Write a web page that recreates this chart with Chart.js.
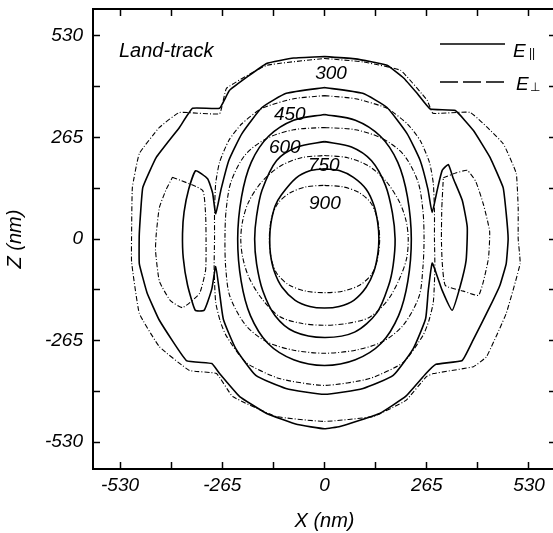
<!DOCTYPE html>
<html>
<head>
<meta charset="utf-8">
<script src="https://cdn.jsdelivr.net/npm/chart.js@4.4.1/dist/chart.umd.min.js"></script>
<style>
  html, body { margin: 0; padding: 0; background: #fff; overflow: hidden; }
  #wrap { width: 553px; height: 533px; overflow: hidden; }
</style>
</head>
<body>
<div id="wrap"><canvas id="chart" width="560" height="533"></canvas></div>
<script>
// Contour levels (labels along the top of the plot)
const levels = [300, 450, 600, 750, 900];
const levelLabelX = [17, -90, -103, -2, 1];
const levelLabelZ = [432, 325, 239, 192, 93];

// Axis ticks (nm)
const tickValues = [-530, -397.5, -265, -132.5, 0, 132.5, 265, 397.5, 530];
const majorTicks = [-530, -265, 0, 265, 530];

// E parallel contours (solid), [x, z] in nm
const par1 = [[0,183],[40,178],[75,161],[108,130],[128,88],[138,42],[141,0],[138,-40],[128,-85],[108,-126],[76,-160],[38,-176],[0,-180],[-38,-176],[-76,-160],[-110,-126],[-130,-85],[-140,-40],[-142,0],[-139,40],[-128,86],[-112,115],[-74,159],[-38,178],[0,183]];
const par2 = [[0,254],[70,240],[122,204],[158,140],[176,68],[183,0],[178,-68],[166,-122],[136,-192],[78,-243],[0,-257],[-78,-242],[-128,-200],[-160,-135],[-176,-65],[-181,0],[-176,60],[-162,127],[-124,205],[-70,240],[0,254]];
const par3 = [[0,325],[80,310],[145,268],[190,200],[215,110],[225,0],[216,-110],[192,-200],[147,-272],[80,-315],[0,-330],[-80,-315],[-147,-272],[-192,-200],[-216,-110],[-225,0],[-215,110],[-190,200],[-145,268],[-80,310],[0,325]];
const par4 = [[0,395],[99,380],[162,343],[214,275],[248,205],[268,130],[279,69],[292,127],[305,179],[321,194],[333,160],[357,101],[370,31],[367,-56],[351,-126],[331,-186],[305,-134],[287,-82],[279,-63],[269,-134],[262,-208],[230,-286],[178,-356],[100,-390],[0,-405],
  [-100,-390],[-178,-356],[-230,-286],[-262,-210],[-272,-140],[-282,-72],[-292,-130],[-312,-186],[-335,-186],[-355,-120],[-366,-50],[-368,14],[-364,70],[-352,130],[-334,178],[-303,157],[-290,120],[-282,66],[-268,130],[-248,205],[-214,275],[-162,343],[-99,380],[0,395]];
const par5 = [[0,476],[80,470],[162,453],[205,420],[240,380],[274,339],[339,335],[386,283],[429,213],[463,134],[471,66],[476,0],[471,-64],[455,-120],[429,-176],[385,-264],[357,-317],[289,-327],[263,-351],[211,-410],[143,-455],[40,-489],[0,-495],
  [-70,-484],[-150,-455],[-220,-411],[-272,-351],[-292,-325],[-358,-317],[-428,-212],[-460,-140],[-480,-64],[-480,14],[-471,134],[-436,213],[-376,291],[-342,341],[-272,341],[-246,388],[-150,458],[-80,472],[0,476]];

// E perpendicular contours (dash-dot)
const perp1 = [[0,140],[48,136],[90,121],[120,94],[136,56],[143,0],[136,-58],[122,-92],[92,-120],[48,-136],[0,-140],[-48,-136],[-92,-120],[-122,-92],[-137,-56],[-143,0],[-137,56],[-120,94],[-90,120],[-48,136],[0,140]];
const perp2 = [[0,218],[60,212],[115,190],[160,150],[195,95],[212,45],[217,0],[213,-50],[196,-100],[165,-158],[117,-204],[60,-220],[0,-225],[-60,-220],[-117,-202],[-163,-155],[-196,-100],[-212,-48],[-217,0],[-212,48],[-196,98],[-162,150],[-115,190],[-60,212],[0,218]];
const perp3 = [[0,291],[80,285],[150,262],[205,220],[242,150],[255,75],[258,0],[255,-75],[245,-150],[204,-225],[150,-268],[80,-290],[0,-298],[-80,-290],[-150,-268],[-204,-225],[-245,-150],[-256,-75],[-258,0],[-255,75],[-242,150],[-205,220],[-150,262],[-80,285],[0,291]];
const perp4 = [[0,374],[80,366],[162,341],[215,300],[248,257],[272,200],[282,145],[285,70],[285,0],[286,-77],[282,-165],[270,-215],[255,-252],[204,-322],[117,-364],[0,-382],[-117,-364],[-204,-322],[-255,-252],[-270,-215],[-282,-165],[-286,-77],[-285,0],[-285,70],[-282,145],[-272,200],[-248,257],[-215,300],[-162,341],[-80,366],[0,374]];
const perp5 = [[0,471],[100,462],[197,440],[266,362],[281,328],[378,330],[463,249],[497,171],[502,80],[502,0],[507,-64],[471,-194],[420,-307],[386,-333],[282,-351],[264,-359],[211,-421],[126,-463],[0,-476],
  [-126,-463],[-238,-411],[-280,-351],[-350,-343],[-428,-281],[-480,-194],[-500,-60],[-500,14],[-498,134],[-480,223],[-428,291],[-376,330],[-272,327],[-254,393],[-150,453],[0,471]];
const perpLobeR = [[308,160],[340,172],[370,179],[392,150],[412,90],[428,20],[425,-50],[412,-110],[399,-147],[360,-136],[313,-121],[305,-60],[303,0],[304,80],[308,160]];
const perpLobeL = [[-394,161],[-316,127],[-308,60],[-307,0],[-308,-80],[-324,-142],[-368,-179],[-400,-160],[-428,-110],[-438,-30],[-436,14],[-428,82],[-410,130],[-394,161]];

const FONT = '"Liberation Sans", Arial, sans-serif';

const toPts = arr => arr.map(p => ({ x: p[0], y: p[1] }));

const solid = (pts, tension) => ({
  data: toPts(pts), showLine: true, pointRadius: 0, borderColor: '#000',
  borderWidth: 1.6, tension: tension, fill: false
});
const dashDot = (pts, tension) => ({
  data: toPts(pts), showLine: true, pointRadius: 0, borderColor: '#000',
  borderWidth: 1.1, borderDash: [5, 2, 1, 2], tension: tension, fill: false
});

// labels, legend and corner text
const annotate = {
  id: 'annotate',
  afterDatasetsDraw(chart) {
    const ctx = chart.ctx;
    const xs = chart.scales.x, ys = chart.scales.y;
    const area = chart.chartArea;
    ctx.save();
    ctx.fillStyle = '#000';
    ctx.textAlign = 'center';
    ctx.textBaseline = 'middle';
    ctx.font = 'italic 19px ' + FONT;
    levels.forEach((lv, i) => {
      ctx.fillText(String(lv), xs.getPixelForValue(levelLabelX[i]), ys.getPixelForValue(levelLabelZ[i]));
    });

    ctx.textAlign = 'left';
    ctx.textBaseline = 'alphabetic';
    ctx.font = 'italic 20px ' + FONT;
    ctx.fillText('Land-track', area.left + 26, area.top + 48);

    // legend
    const lx0 = area.left + 347, lx1 = area.left + 412;
    ctx.strokeStyle = '#000';
    ctx.lineWidth = 1.6;
    ctx.beginPath();
    ctx.moveTo(lx0, area.top + 35);
    ctx.lineTo(lx1, area.top + 35);
    ctx.stroke();
    ctx.setLineDash([18, 5]);
    ctx.beginPath();
    ctx.moveTo(lx0, area.top + 73);
    ctx.lineTo(lx1, area.top + 73);
    ctx.stroke();
    ctx.setLineDash([]);

    ctx.font = 'italic 19px ' + FONT;
    ctx.fillText('E', area.left + 420, area.top + 48);
    ctx.fillText('E', area.left + 423, area.top + 81);
    ctx.font = '12px ' + FONT;
    ctx.fillText('||', area.left + 436, area.top + 48);
    ctx.fillText('\u22A5', area.left + 437, area.top + 82);
    ctx.restore();
  }
};

const tickFont = { family: FONT, size: 19, style: 'italic' };
const titleFont = { family: FONT, size: 20, style: 'italic' };

const setTicks = s => { s.ticks = tickValues.map(v => ({ value: v })); };
const majorLabel = v => majorTicks.includes(v) ? String(v) : '';
// fixed box sizes, no extra label overhang padding
const fixBox = (w, h) => s => {
  if (w !== null) s.width = w;
  if (h !== null) s.height = h;
  s.paddingTop = 0; s.paddingBottom = 0; s.paddingLeft = 0; s.paddingRight = 0;
};

new Chart(document.getElementById('chart'), {
  type: 'scatter',
  data: {
    datasets: [
      solid(par1, 0.3), solid(par2, 0.3), solid(par3, 0.3), solid(par4, 0.15), solid(par5, 0.1),
      dashDot(perp1, 0.3), dashDot(perp2, 0.3), dashDot(perp3, 0.3), dashDot(perp4, 0.2), dashDot(perp5, 0.1),
      dashDot(perpLobeR, 0.15), dashDot(perpLobeL, 0.15)
    ]
  },
  options: {
    responsive: false,
    animation: false,
    layout: { padding: 0 },
    plugins: { legend: { display: false }, tooltip: { enabled: false } },
    scales: {
      x: {
        type: 'linear', position: 'bottom', min: -600, max: 600,
        afterBuildTicks: setTicks,
        afterFit: fixBox(null, 64),
        ticks: { callback: majorLabel, font: tickFont, color: '#000', padding: 12, maxRotation: 0, autoSkip: false },
        grid: { drawOnChartArea: false, tickLength: -7, color: '#000', tickWidth: 1.5 },
        border: { color: '#000', width: 2 },
        title: { display: true, text: 'X (nm)', font: titleFont, color: '#000', padding: { top: 0, bottom: 0 } }
      },
      x2: {
        type: 'linear', position: 'top', min: -600, max: 600,
        afterBuildTicks: setTicks,
        afterFit: fixBox(null, 9),
        ticks: { callback: () => '', font: tickFont },
        grid: { drawOnChartArea: false, tickLength: -7, color: '#000', tickWidth: 1.5 },
        border: { color: '#000', width: 2 }
      },
      y: {
        type: 'linear', position: 'left', min: -600, max: 600,
        afterBuildTicks: setTicks,
        afterFit: fixBox(93, null),
        ticks: { callback: majorLabel, font: tickFont, color: '#000', padding: 17, autoSkip: false },
        grid: { drawOnChartArea: false, tickLength: -7, color: '#000', tickWidth: 1.5 },
        border: { color: '#000', width: 2 },
        title: { display: true, text: 'Z (nm)', font: titleFont, color: '#000', padding: { top: 3, bottom: 0 } }
      },
      y2: {
        type: 'linear', position: 'right', min: -600, max: 600,
        afterBuildTicks: setTicks,
        afterFit: fixBox(4, null),
        ticks: { callback: () => '', font: tickFont },
        grid: { drawOnChartArea: false, tickLength: -7, color: '#000', tickWidth: 1.5 },
        border: { color: '#000', width: 2 }
      }
    }
  },
  plugins: [annotate]
});
</script>
</body>
</html>
